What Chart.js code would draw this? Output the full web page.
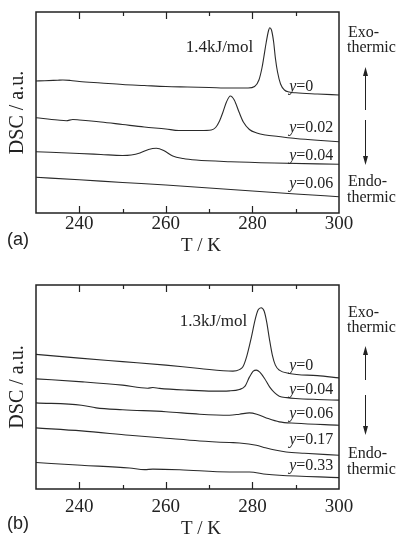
<!DOCTYPE html>
<html>
<head>
<meta charset="utf-8">
<script src="https://cdn.jsdelivr.net/npm/chart.js@4"></script>
<style>
  html, body { margin: 0; padding: 0; background: #fff; }
  #wrap { position: relative; width: 404px; height: 537px; }
  canvas { position: absolute; left: 0; }
  #chartA { top: 0; }
  #chartB { top: 268px; }
</style>
</head>
<body>
<div id="wrap">
  <canvas id="chartA" width="404" height="268"></canvas>
  <canvas id="chartB" width="404" height="269"></canvas>
</div>
<script>
// temperature ticks (K)
const tickLabels = [240, 260, 280, 300];
const minorTicks = [240, 250, 260, 270, 280, 290];

// panel (a): DSC traces, arbitrary units
const tA0 = [230, 232, 235, 236.2, 238, 240, 245, 250, 255, 260, 265, 270, 275, 279, 280.5, 281.5, 282.2, 282.6, 283.2, 283.7, 284.0, 284.4, 284.9, 285.3, 285.8, 286.5, 287.4, 288.5, 290, 295, 300];
const dscA0 = [132, 132.3, 132.8, 133, 132.5, 131.5, 130, 128.5, 127.5, 126.5, 126, 125.5, 125, 125, 126.5, 133, 145, 155, 171, 182, 185.3, 183, 171, 155, 141, 129, 123, 121, 120.2, 119, 118];

const tA002 = [230, 235, 237, 238.5, 240, 245, 250, 255, 260, 263, 268, 270.5, 271.5, 272.4, 273.2, 274, 274.9, 275.8, 276.9, 277.9, 279.3, 281, 283, 286, 290, 295, 300];
const dscA002 = [95.3, 93, 92.3, 93.5, 93, 91, 88.5, 86, 84, 82.5, 82.5, 83, 85.5, 92, 101, 111, 117, 113, 101, 91, 83.5, 80, 78, 76.5, 74.5, 72.7, 71.3];

const tA004 = [230, 240, 245, 250, 252, 254, 256, 257.8, 259.5, 261.6, 264, 267, 275, 285, 300];
const dscA004 = [61.3, 59.5, 58.5, 57.5, 58, 60, 63.5, 64.7, 62.5, 57, 54.5, 53, 51.3, 50, 48.7];

const tA006 = [230, 240, 250, 260, 270, 280, 290, 300];
const dscA006 = [35.7, 33.2, 30.5, 28, 25, 22, 19, 16.3];

// panel (b)
const tB0 = [230, 240, 250, 260, 267.8, 275.5, 277, 277.8, 278.7, 279.7, 280.6, 281.3, 282.0, 282.7, 283.3, 283.9, 284.6, 285.3, 286.2, 288.5, 295, 300];
const dscB0 = [134.4, 130.7, 127.2, 123.7, 120.4, 117.7, 119.2, 122, 132.7, 150.4, 168.7, 178.7, 181, 177.7, 166.7, 150.4, 133.7, 123.7, 118.7, 115.4, 113.2, 111];

const tB004 = [230, 240.8, 250, 255.8, 257, 258.5, 265, 270.8, 274.7, 277, 278.3, 279.3, 280.2, 280.9, 281.7, 282.8, 284, 285.1, 286.2, 288, 290, 295, 300];
const dscB004 = [110, 107, 103.7, 100.6, 101.3, 100.5, 98.7, 97.7, 98, 99.4, 102.7, 111.7, 117.7, 118.7, 116.7, 110.4, 101.7, 96.2, 92.7, 91.2, 90.4, 89.4, 88.7];

const tB006 = [230, 240.5, 243.9, 250, 260, 267.8, 274.7, 277, 279.3, 281, 283.2, 286.2, 290, 300];
const dscB006 = [86, 83.7, 81, 79.2, 77.2, 74.7, 73.7, 74.7, 76, 74.7, 71, 67, 65.7, 63.7];

const tB017 = [230, 240.5, 251.6, 260, 267.8, 274.7, 277, 280.9, 283, 285.5, 287.8, 292, 300];
const dscB017 = [61, 58, 53.7, 50.7, 48, 46.4, 46, 43.7, 41.2, 38.7, 37, 35.7, 33.7];

const tB033 = [230, 240.5, 251.6, 255.1, 257, 263.2, 274.7, 279.3, 283.2, 286.2, 300];
const dscB033 = [26.4, 23.7, 21, 19.3, 19.8, 19.2, 17, 17, 14.7, 13.7, 11.4];

const ink = '#222';
const serif = '"Liberation Serif", "Times New Roman", serif';

function points(ts, vs) {
    return ts.map((t, i) => ({ x: t, y: vs[i] }));
}

function trace(ts, vs) {
    return {
        data: points(ts, vs),
        borderColor: '#2a2a2a',
        borderWidth: 1.1,
        pointRadius: 0,
        fill: false,
        cubicInterpolationMode: 'monotone'
    };
}

// frame, inward ticks, labels and annotations
const decor = {
    id: 'decor',
    afterDraw(chart, args, o) {
        const ctx = chart.ctx;
        const a = chart.chartArea;
        const xs = chart.scales.x;
        const ys = chart.scales.y;
        ctx.save();
        ctx.strokeStyle = ink;
        ctx.fillStyle = ink;

        ctx.lineWidth = 1.5;
        ctx.strokeRect(a.left, a.top, a.right - a.left, a.bottom - a.top);

        ctx.lineWidth = 1.2;
        minorTicks.forEach(t => {
            const x = Math.round(xs.getPixelForValue(t)) + 0.5;
            const len = tickLabels.includes(t) ? 7 : 4;
            ctx.beginPath();
            ctx.moveTo(x, a.bottom);
            ctx.lineTo(x, a.bottom - len);
            ctx.moveTo(x, a.top);
            ctx.lineTo(x, a.top + len);
            ctx.stroke();
        });

        ctx.textAlign = 'center';
        ctx.textBaseline = 'middle';
        ctx.font = '19px ' + serif;
        tickLabels.forEach(t => {
            ctx.fillText(String(t), xs.getPixelForValue(t), a.bottom + o.tickGap);
        });
        ctx.fillText('T / K', 201, a.bottom + o.titleGap);

        ctx.save();
        ctx.translate(18, (a.top + a.bottom) / 2);
        ctx.rotate(-Math.PI / 2);
        ctx.font = '20px ' + serif;
        ctx.fillText('DSC / a.u.', 0, 0);
        ctx.restore();

        ctx.textAlign = 'left';
        ctx.font = '18px "Liberation Sans", Arial, sans-serif';
        ctx.fillText(o.panel, 7, a.bottom + o.panelGap);

        ctx.textAlign = 'center';
        ctx.font = '17px ' + serif;
        ctx.fillText(o.heat, xs.getPixelForValue(o.heatAt[0]), ys.getPixelForValue(o.heatAt[1]));

        // composition labels, italic y
        ctx.textAlign = 'left';
        o.labels.forEach(l => {
            let x = xs.getPixelForValue(288.5);
            const y = ys.getPixelForValue(l[1]);
            ctx.font = 'italic 16px ' + serif;
            ctx.fillText('y', x, y);
            x += ctx.measureText('y').width;
            ctx.font = '16px ' + serif;
            ctx.fillText('=' + l[0], x, y);
        });

        ctx.font = '16px ' + serif;
        const s = o.side;
        ctx.fillText('Exo-', 348, s[0]);
        ctx.fillText('thermic', 347, s[0] + 15);
        ctx.fillText('Endo-', 348, s[5]);
        ctx.fillText('thermic', 347, s[5] + 16);

        const ax = 365.5;
        ctx.lineWidth = 1;
        ctx.beginPath();
        ctx.moveTo(ax, s[1] + 6);
        ctx.lineTo(ax, s[2]);
        ctx.moveTo(ax, s[3]);
        ctx.lineTo(ax, s[4] - 6);
        ctx.stroke();
        ctx.beginPath();
        ctx.moveTo(ax, s[1]);
        ctx.lineTo(ax - 2.5, s[1] + 9);
        ctx.lineTo(ax + 2.5, s[1] + 9);
        ctx.closePath();
        ctx.moveTo(ax, s[4]);
        ctx.lineTo(ax - 2.5, s[4] - 9);
        ctx.lineTo(ax + 2.5, s[4] - 9);
        ctx.closePath();
        ctx.fill();

        ctx.restore();
    }
};

function makePanel(id, sets, yMax, pad, o) {
    return new Chart(document.getElementById(id).getContext('2d'), {
        type: 'line',
        data: { datasets: sets },
        options: {
            responsive: false,
            animation: false,
            events: [],
            layout: { padding: pad },
            plugins: { legend: { display: false }, tooltip: { enabled: false }, decor: o },
            scales: {
                x: { type: 'linear', min: 230, max: 300, display: false },
                y: { min: 0, max: yMax, display: false }
            }
        },
        plugins: [decor]
    });
}

makePanel('chartA', [
    trace(tA0, dscA0),
    trace(tA002, dscA002),
    trace(tA004, dscA004),
    trace(tA006, dscA006)
], 201, { left: 36, right: 65, top: 12, bottom: 55 }, {
    panel: '(a)',
    tickGap: 11, titleGap: 33, panelGap: 27,
    heat: '1.4kJ/mol', heatAt: [272.4, 165],
    labels: [['0', 126.3], ['0.02', 85], ['0.04', 57], ['0.06', 29]],
    side: [33, 67, 110, 120, 165, 182]
});

makePanel('chartB', [
    trace(tB0, dscB0),
    trace(tB004, dscB004),
    trace(tB006, dscB006),
    trace(tB017, dscB017),
    trace(tB033, dscB033)
], 203.7, { left: 36, right: 65, top: 17, bottom: 48 }, {
    panel: '(b)',
    tickGap: 18, titleGap: 40, panelGap: 35,
    heat: '1.3kJ/mol', heatAt: [271, 167],
    labels: [['0', 122.7], ['0.04', 99.4], ['0.06', 74.7], ['0.17', 48.7], ['0.33', 22.7]],
    side: [45, 78, 112, 127, 167, 186]
});
</script>
</body>
</html>
